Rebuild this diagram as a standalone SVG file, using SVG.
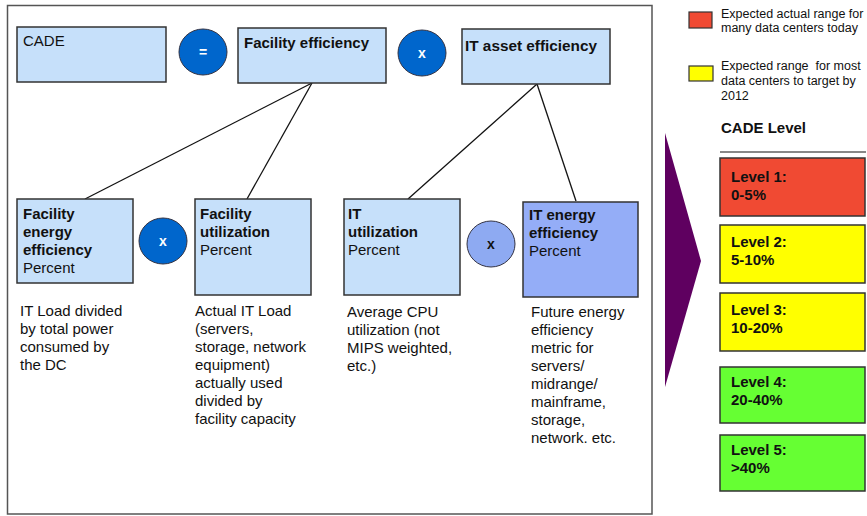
<svg xmlns="http://www.w3.org/2000/svg" width="867" height="516" viewBox="0 0 867 516">
<style>
text{font-family:"Liberation Sans",Arial,sans-serif;fill:#111}
.box{fill:#c6e0fa;stroke:#333;stroke-width:1.5}
.dark{fill:#94adf7;stroke:#333;stroke-width:1.5}
.op{fill:#0066cc;stroke:#334;stroke-width:1}
.opl{fill:#8eaaf2;stroke:#334;stroke-width:1}
.opt{font-size:14px;font-weight:bold;fill:#fff;text-anchor:middle}
.t{font-size:15px}
.b{font-weight:bold}
.d{font-size:15px}
.lg{font-size:12.5px}
.lv{stroke:#333;stroke-width:1.5}
.conn line{stroke:#111;stroke-width:1.3}
</style>
<rect x="7.5" y="5.5" width="644.5" height="508.5" fill="#fff" stroke="#555" stroke-width="1.5"/>
<g class="conn" id="connectors">
<line x1="312" y1="83" x2="85" y2="199"/>
<line x1="312" y1="83" x2="247" y2="199"/>
<line x1="537" y1="84" x2="408" y2="199"/>
<line x1="537" y1="84" x2="576" y2="201"/>
</g>
<g id="cade"><rect class="box" x="17" y="27" width="149" height="55"/><text class="t" x="23" y="46">CADE</text></g>
<g id="op-eq"><ellipse class="op" cx="203" cy="52" rx="24" ry="23"/><text class="opt" x="203" y="57">=</text></g>
<g id="facility-eff"><rect class="box" x="238" y="28" width="148" height="55"/><text class="t b" x="244" y="48" textLength="125" lengthAdjust="spacingAndGlyphs">Facility efficiency</text></g>
<g id="op-x1"><ellipse class="op" cx="422" cy="53" rx="24" ry="23"/><text class="opt" x="422" y="58">x</text></g>
<g id="it-asset"><rect class="box" x="462" y="29" width="148" height="55"/><text class="t b" x="465" y="51" textLength="132" lengthAdjust="spacingAndGlyphs">IT asset efficiency</text></g>

<g id="fac-energy"><rect class="box" x="17" y="199" width="116" height="84"/>
<text class="t" x="23" y="219"><tspan class="b">Facility</tspan><tspan class="b" x="23" dy="18">energy</tspan><tspan class="b" x="23" dy="18">efficiency</tspan><tspan x="23" dy="18">Percent</tspan></text></g>
<g id="op-x2"><ellipse class="op" cx="163" cy="241" rx="24" ry="23"/><text class="opt" x="163" y="246">x</text></g>
<g id="fac-util"><rect class="box" x="195" y="199" width="116" height="96"/>
<text class="t" x="200" y="219"><tspan class="b">Facility</tspan><tspan class="b" x="200" dy="18">utilization</tspan><tspan x="200" dy="18">Percent</tspan></text></g>
<g id="it-util"><rect class="box" x="344" y="199" width="116" height="96"/>
<text class="t" x="348" y="219"><tspan class="b">IT</tspan><tspan class="b" x="348" dy="18">utilization</tspan><tspan x="348" dy="18">Percent</tspan></text></g>
<g id="op-x3"><ellipse class="opl" cx="491" cy="244" rx="24" ry="23"/><text class="opt" x="491" y="249" style="fill:#111">x</text></g>
<g id="it-energy"><rect class="dark" x="523" y="202" width="115" height="95"/>
<text class="t" x="529" y="220"><tspan class="b">IT energy</tspan><tspan class="b" x="529" dy="18">efficiency</tspan><tspan x="529" dy="18">Percent</tspan></text></g>

<g id="desc1"><text class="d" x="20" y="316"><tspan>IT Load divided</tspan><tspan x="20" dy="18">by total power</tspan><tspan x="20" dy="18">consumed by</tspan><tspan x="20" dy="18">the DC</tspan></text></g>
<g id="desc2"><text class="d" x="195" y="316"><tspan>Actual IT Load</tspan><tspan x="195" dy="18">(servers,</tspan><tspan x="195" dy="18">storage, network</tspan><tspan x="195" dy="18">equipment)</tspan><tspan x="195" dy="18">actually used</tspan><tspan x="195" dy="18">divided by</tspan><tspan x="195" dy="18">facility capacity</tspan></text></g>
<g id="desc3"><text class="d" x="347" y="317"><tspan>Average CPU</tspan><tspan x="347" dy="18">utilization (not</tspan><tspan x="347" dy="18">MIPS weighted,</tspan><tspan x="347" dy="18">etc.)</tspan></text></g>
<g id="desc4"><text class="d" x="531" y="317"><tspan>Future energy</tspan><tspan x="531" dy="18">efficiency</tspan><tspan x="531" dy="18">metric for</tspan><tspan x="531" dy="18">servers/</tspan><tspan x="531" dy="18">midrange/</tspan><tspan x="531" dy="18">mainframe,</tspan><tspan x="531" dy="18">storage,</tspan><tspan x="531" dy="18">network. etc.</tspan></text></g>

<g id="legend">
<rect x="689" y="12" width="23" height="16" fill="#f04a33" stroke="#333" stroke-width="1.2"/>
<text class="lg" x="721" y="18"><tspan>Expected actual range for</tspan><tspan x="721" dy="14">many data centers today</tspan></text>
<rect x="689" y="66" width="24" height="15" fill="#ffff00" stroke="#333" stroke-width="1.2"/>
<text class="lg" x="721" y="70" xml:space="preserve"><tspan>Expected range  for most</tspan><tspan x="721" dy="15">data centers to target by</tspan><tspan x="721" dy="15">2012</tspan></text>
<text class="t b" x="721" y="133">CADE Level</text>
<line x1="720" y1="152" x2="866" y2="152" stroke="#888" stroke-width="2"/>
</g>
<polygon id="arrow" points="665,133 701,261 665,387" fill="#5f0060"/>
<g id="level1"><rect class="lv" x="720" y="158" width="145" height="58" fill="#f04a33"/><text class="t b" x="731" y="182"><tspan>Level 1:</tspan><tspan x="731" dy="18">0-5%</tspan></text></g>
<g id="level2"><rect class="lv" x="720" y="225" width="145" height="58" fill="#ffff00"/><text class="t b" x="731" y="247"><tspan>Level 2:</tspan><tspan x="731" dy="18">5-10%</tspan></text></g>
<g id="level3"><rect class="lv" x="720" y="293" width="145" height="58" fill="#ffff00"/><text class="t b" x="731" y="315"><tspan>Level 3:</tspan><tspan x="731" dy="18">10-20%</tspan></text></g>
<g id="level4"><rect class="lv" x="720" y="367" width="145" height="56" fill="#66ff33"/><text class="t b" x="731" y="387"><tspan>Level 4:</tspan><tspan x="731" dy="18">20-40%</tspan></text></g>
<g id="level5"><rect class="lv" x="720" y="435" width="145" height="56" fill="#66ff33"/><text class="t b" x="731" y="455"><tspan>Level 5:</tspan><tspan x="731" dy="18">&gt;40%</tspan></text></g>
</svg>
